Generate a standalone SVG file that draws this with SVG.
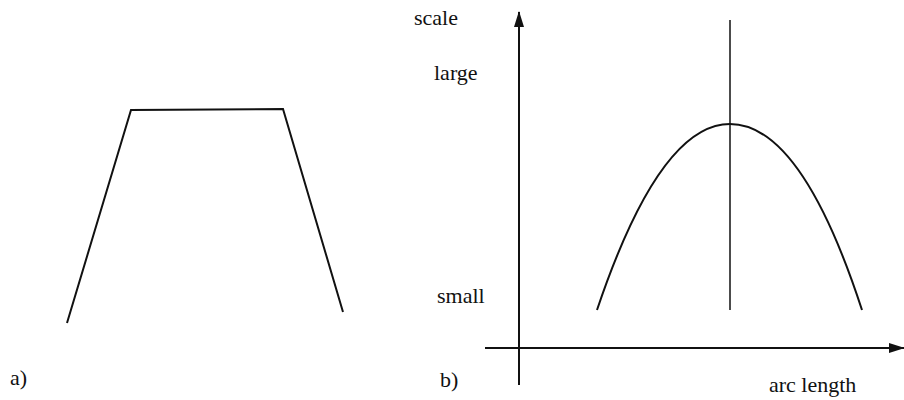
<svg xmlns="http://www.w3.org/2000/svg" width="904" height="400" viewBox="0 0 904 400">
<style>
.ln{fill:none;stroke:#111;stroke-width:2;stroke-linejoin:miter;stroke-linecap:butt}
.thin{fill:none;stroke:#111;stroke-width:1.5}
.t{font-family:"Liberation Serif","Times New Roman",serif;font-size:22px;fill:#111}
</style>
<defs>
<marker id="ah" viewBox="0 0 16 10" refX="15" refY="5" markerWidth="16" markerHeight="10" markerUnits="userSpaceOnUse" orient="auto">
<path d="M0,0 L16,5 L0,10 Z" fill="#111"/>
</marker>
</defs>
<rect width="904" height="400" fill="#fff"/>
<g id="panel-a">
<polyline class="ln" points="67,323 131,110 283,109 343,312"/>
<text class="t" x="10" y="385">a)</text>
</g>
<g id="connectors">
<line class="ln" x1="519" y1="385" x2="519" y2="12" marker-end="url(#ah)"/>
<line class="ln" x1="485" y1="348" x2="904" y2="348" marker-end="url(#ah)"/>
</g>
<g id="panel-b">
<line class="thin" x1="730" y1="20" x2="730" y2="310"/>
<path class="ln" d="M597,310 C628,218 672,124 730,124 C788,124 832,218 862,310"/>
<text class="t" x="414" y="25">scale</text>
<text class="t" x="434" y="80">large</text>
<text class="t" x="437" y="303">small</text>
<text class="t" x="440" y="387">b)</text>
<text class="t" x="769" y="392">arc length</text>
</g>
</svg>
